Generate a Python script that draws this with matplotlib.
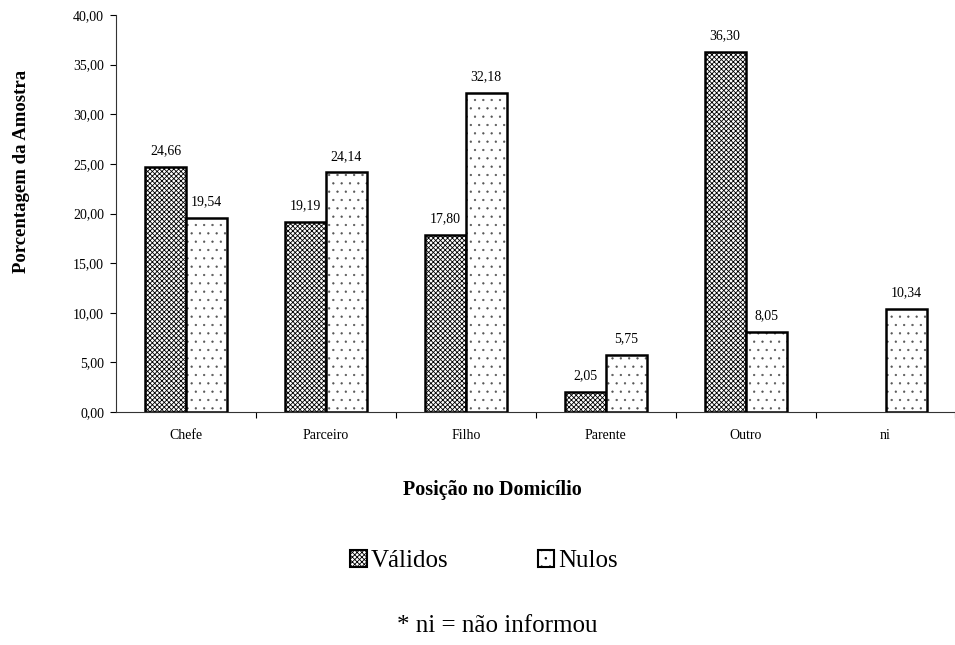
import matplotlib
matplotlib.use("Agg")
import matplotlib.pyplot as plt
import numpy as np
from matplotlib.patches import Patch

categories = ["Chefe", "Parceiro", "Filho", "Parente", "Outro", "ni"]
validos = [24.66, 19.19, 17.80, 2.05, 36.30, None]
nulos = [19.54, 24.14, 32.18, 5.75, 8.05, 10.34]
yticks = [0, 5, 10, 15, 20, 25, 30, 35, 40]

plt.rcParams['font.family'] = ['Liberation Serif', 'DejaVu Serif']
plt.rcParams['hatch.linewidth'] = 0.6

def fmt(v):
    return f"{v:.2f}".replace(".", ",")

def hatch_lw(artists, lw):
    for a in artists:
        if hasattr(a, "set_hatch_linewidth"):
            a.set_hatch_linewidth(lw)

fig = plt.figure(figsize=(9.55, 6.45), dpi=100)
ax = fig.add_axes([0.1215, 0.3612, 0.879, 0.6155])

x = np.arange(len(categories))
w = 0.293
for i in range(len(categories)):
    v = validos[i]
    if v is not None:
        b = ax.bar(x[i] - w / 2, v, w, facecolor='white', edgecolor='black',
                   hatch='xxxxxxx', linewidth=1.8)
        hatch_lw(b, 0.6)
        ax.annotate(fmt(v), (x[i] - w / 2, v), xytext=(0, 7), textcoords='offset points',
                    ha='center', va='bottom', fontsize=10)
    n = nulos[i]
    b = ax.bar(x[i] + w / 2, n, w, facecolor='white', edgecolor='#555555',
               hatch='..', linewidth=0)
    hatch_lw(b, 0.4)
    ax.bar(x[i] + w / 2, n, w, fill=False, edgecolor='black', linewidth=1.8)
    ax.annotate(fmt(n), (x[i] + w / 2, n), xytext=(0, 7), textcoords='offset points',
                ha='center', va='bottom', fontsize=10)

ax.set_xlim(-0.5, len(categories) - 0.5)
ax.set_ylim(0, 40)
ax.set_yticks(yticks)
ax.set_yticklabels([fmt(t) for t in yticks], fontsize=10)
ax.set_xticks(x)
ax.set_xticklabels(categories, fontsize=10)
ax.tick_params(axis='x', length=0, pad=12)
ax.set_xticks(np.arange(len(categories)) + 0.5, minor=True)
ax.tick_params(axis='x', which='minor', length=4, width=0.8, direction='out')
ax.tick_params(axis='y', length=4.5, width=0.8, direction='out', pad=4)
for s in ['top', 'right']:
    ax.spines[s].set_visible(False)
for s in ['left', 'bottom']:
    ax.spines[s].set_linewidth(0.8)
    ax.spines[s].set_color('#333333')

fig.text(22 / 955, 1 - 171 / 645, "Porcentagem da Amostra", rotation=90,
         ha='center', va='center', fontsize=13.5, fontweight='bold')

fig.text(492 / 955, 1 - 490 / 645, "Posição no Domicílio", ha='center', va='center',
         fontsize=14.5, fontweight='bold')

handles = [Patch(facecolor='white', edgecolor='black', hatch='xxxxxxx', linewidth=1.5),
           Patch(facecolor='white', edgecolor='black', hatch='..', linewidth=1.5)]
hatch_lw(handles, 0.5)
fig.legend(handles, ["Válidos", "Nulos"], loc='center', bbox_to_anchor=(484 / 955, 1 - 561 / 645),
           ncol=2, frameon=False, fontsize=18, handlelength=0.65, handleheight=0.65,
           handletextpad=0.15, columnspacing=3.6)

fig.text(497 / 955, 1 - 626 / 645, "* ni = não informou", ha='center', va='center', fontsize=18)

fig.savefig("out.png", dpi=100)
